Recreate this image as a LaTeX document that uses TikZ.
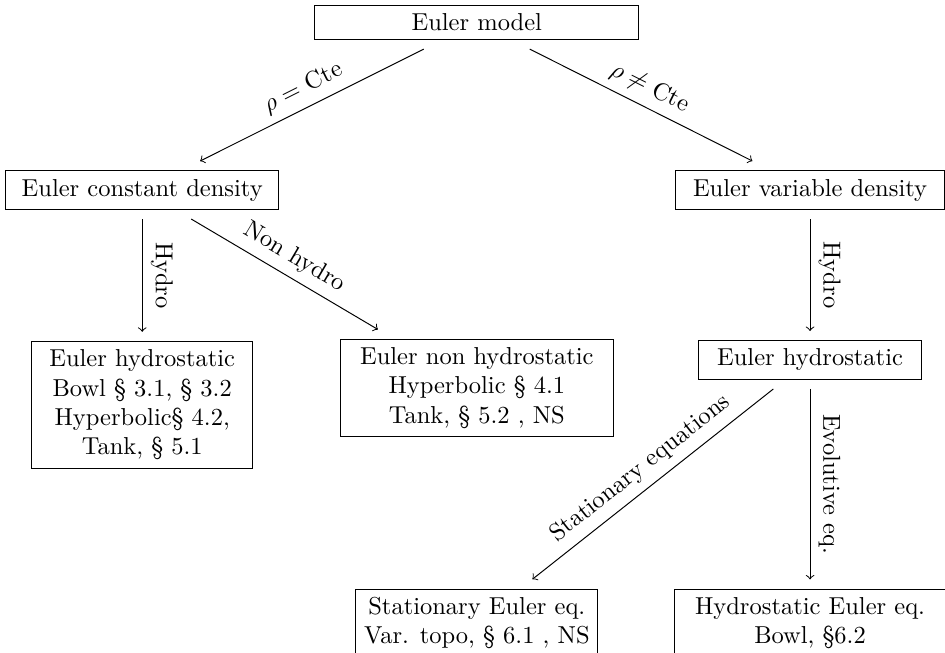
\documentclass[tikz,border=0pt]{standalone}
\usepackage{amsmath}
\usepackage{amssymb}
\begin{document}
\begin{tikzpicture}[box/.style={shape=rectangle,draw,align=center,outer sep=4pt}]
%[inner sep=1mm]
\useasboundingbox (0,0) rectangle (13.556,-9.367);
\path (6.84,-0.323) node (model) [box,minimum width=4.65cm] {Euler model};
\path (2.04,-2.726) node (cst) [box,minimum width=3.92cm] {Euler constant density};
\path (11.62,-2.726) node (var) [box,minimum width=3.86cm] {Euler variable density};
\path (2.04,-5.81) node (hydl) [box,minimum width=3.17cm] {Euler hydrostatic\\ Bowl \S\ 3.1, \S\ 3.2\\ Hyperbolic\S\ 4.2,\\ Tank, \S\ 5.1};
\path (6.84,-5.566) node (nonhyd) [box,minimum width=3.92cm] {Euler non hydrostatic\\ Hyperbolic \S\ 4.1\\ Tank, \S\ 5.2 , NS};
\path (11.62,-5.164) node (hydr) [box,minimum width=3.19cm] {Euler hydrostatic};
\path (6.84,-8.94) node (stat) [box,minimum width=3.47cm] {Stationary Euler eq.\\ Var. topo, \S\ 6.1 , NS};
\path (11.62,-8.94) node (hydeq) [box,minimum width=3.88cm] {Hydrostatic Euler eq.\\ Bowl, \S6.2};

\draw [->] (model) to node [above,sloped] {$\rho =$ Cte} (cst);
\draw [->] (model) to node [above,sloped] {$\rho \neq$ Cte} (var);
\draw [->] (cst) to node [above,sloped] {Hydro} (hydl);
\draw [->] (cst) to node [above,sloped] {Non hydro} (nonhyd);
\draw [->] (var) to node [above,sloped] {Hydro} (hydr);
\draw [->] (hydr) to node [above,sloped] {Stationary equations} (stat);
\draw [->] (hydr) to node [above,sloped] {Evolutive eq.} (hydeq);
\end{tikzpicture}
\end{document}
